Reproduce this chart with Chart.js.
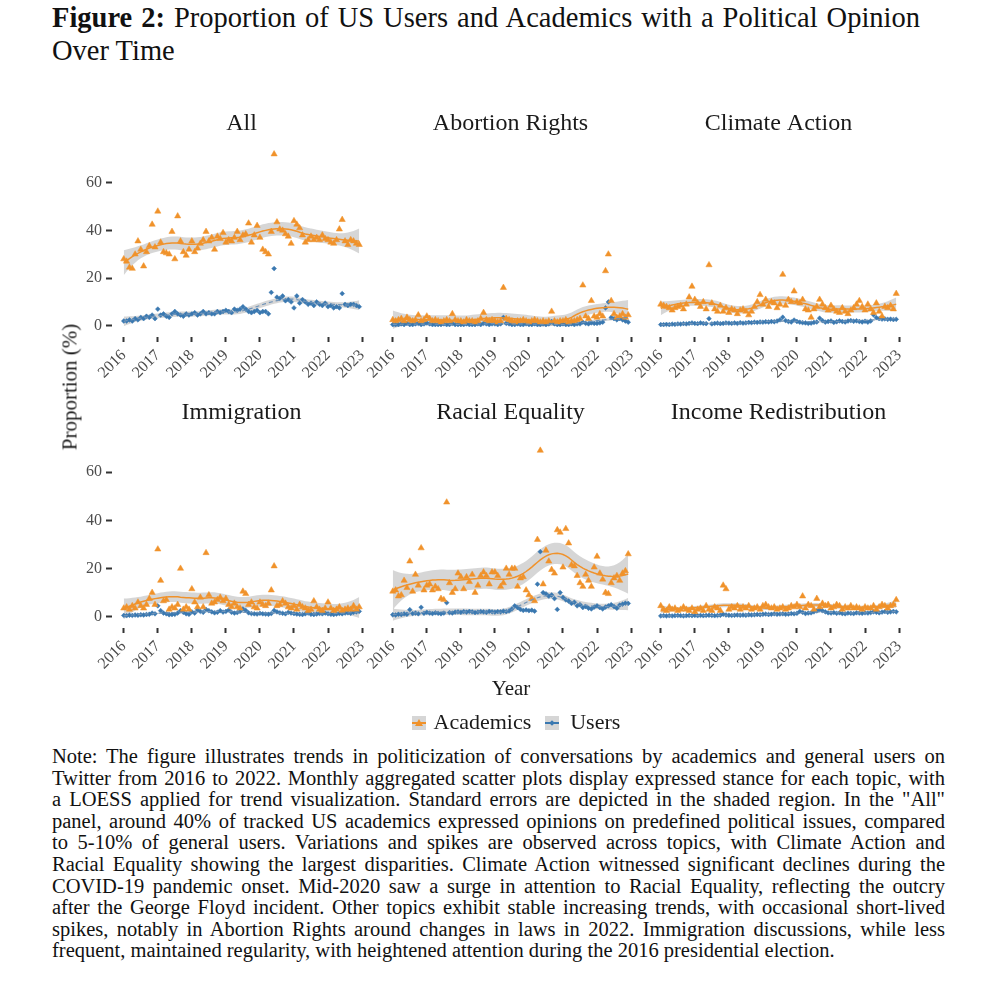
<!DOCTYPE html>
<html>
<head>
<meta charset="utf-8">
<script src="https://cdn.jsdelivr.net/npm/chart.js@4.4.1/dist/chart.umd.min.js"></script>
<style>
  body { margin: 0; background: #fff; font-family: 'Liberation Serif', serif; color: #111; }
  #page { position: relative; width: 991px; height: 1000px; overflow: hidden; font-family: 'Liberation Serif', serif; }
  canvas { position: absolute; }
  .just { text-align: justify; text-align-last: justify; white-space: nowrap; }
  .key { display: inline-block; position: relative; width: 14px; height: 14px; background: #d6d6d6; vertical-align: -1px; }
  .key .ln { position: absolute; left: 0; right: 0; top: 6px; height: 2px; }
</style>
</head>
<body>
<div id="page">
  <div style="position:absolute;left:52px;top:1px;width:868px;font-size:28.5px;line-height:33px;">
    <div class="just"><b>Figure 2:</b> Proportion of US Users and Academics with a Political Opinion</div>
    <div>Over Time</div>
  </div>

  <canvas id="panel0" width="359" height="291" style="left:62px;top:96px"></canvas>
  <canvas id="panel1" width="359" height="291" style="left:331px;top:96px"></canvas>
  <canvas id="panel2" width="359" height="291" style="left:599px;top:96px"></canvas>
  <canvas id="panel3" width="359" height="293" style="left:62px;top:385px"></canvas>
  <canvas id="panel4" width="359" height="293" style="left:331px;top:385px"></canvas>
  <canvas id="panel5" width="359" height="293" style="left:599px;top:385px"></canvas>

  <div style="position:absolute;left:70px;top:387px;transform:translate(-50%,-50%) rotate(-90deg);font-size:21px;white-space:nowrap;color:#1a1a1a">Proportion (%)</div>
  <div style="position:absolute;left:511px;top:688px;transform:translate(-50%,-50%);font-size:21px;color:#1a1a1a">Year</div>

  <div style="position:absolute;left:412px;top:709px;font-family:'Liberation Serif',serif;font-size:22px;line-height:26px;white-space:nowrap;color:#1a1a1a">
    <span class="key"><span class="ln" style="background:#F0922B"></span><span style="position:absolute;left:3px;top:3px;width:0;height:0;border-left:4px solid transparent;border-right:4px solid transparent;border-bottom:7px solid #F0922B"></span></span>
    <span style="margin-left:2px">Academics</span>
    <span class="key" style="margin-left:8px"><span class="ln" style="background:#3A78B0"></span><span style="position:absolute;left:5px;top:5px;width:4px;height:4px;background:#3A78B0;transform:rotate(45deg)"></span></span>
    <span style="margin-left:6px">Users</span>
  </div>

  <div style="position:absolute;left:52px;top:746px;width:893px;font-size:20.5px;line-height:21.6px;color:#111">
    <div class="just">Note: The figure illustrates trends in politicization of conversations by academics and general users on</div>
    <div class="just">Twitter from 2016 to 2022. Monthly aggregated scatter plots display expressed stance for each topic, with</div>
    <div class="just">a LOESS applied for trend visualization. Standard errors are depicted in the shaded region. In the &quot;All&quot;</div>
    <div class="just">panel, around 40% of tracked US academics expressed opinions on predefined political issues, compared</div>
    <div class="just">to 5-10% of general users. Variations and spikes are observed across topics, with Climate Action and</div>
    <div class="just">Racial Equality showing the largest disparities. Climate Action witnessed significant declines during the</div>
    <div class="just">COVID-19 pandemic onset. Mid-2020 saw a surge in attention to Racial Equality, reflecting the outcry</div>
    <div class="just">after the George Floyd incident. Other topics exhibit stable increasing trends, with occasional short-lived</div>
    <div class="just">spikes, notably in Abortion Rights around changes in laws in 2022. Immigration discussions, while less</div>
    <div>frequent, maintained regularity, with heightened attention during the 2016 presidential election.</div>
  </div>
</div>

<script>
'use strict';

const panelTitles = ['All', 'Abortion Rights', 'Climate Action', 'Immigration', 'Racial Equality', 'Income Redistribution'];
const yearTicks = [2016, 2017, 2018, 2019, 2020, 2021, 2022, 2023];
const valueTicks = [0, 20, 40, 60];
const firstYear = 2016;
const lastYear = 2022;

// monthly share (%) of accounts with a stance, Jan 2016 .. Dec 2022, one row per year
const allAcademics = [
  28, 27, 24.5, 24, 30, 35.5, 32, 25, 31, 33.5, 42.5, 33,
  48, 35, 31, 30.5, 30, 39.5, 28, 46, 35.5, 31, 29.5, 32,
  35.5, 31, 32.5, 34.5, 36, 39.5, 35.5, 37, 32, 37.5, 36.5, 39,
  35, 36, 35.5, 37, 39.5, 36, 38, 38.5, 43, 35, 38, 42,
  37, 32, 31, 30, 39.5, 72, 43.5, 40.5, 40, 38.5, 37.5, 34.5,
  44, 42.5, 41, 38, 35, 36, 37.5, 36, 37, 36, 38, 36.5,
  36, 35, 34.5, 36, 40.5, 44.5, 35.5, 34, 36, 35.5, 34.5, 34
];
const allUsers = [
  2, 2, 2.5, 2, 3, 2.5, 3.5, 3, 4, 3.5, 4.5, 3,
  7, 4.5, 5, 4, 3.5, 5, 6, 5, 4.5, 4, 5, 4.5,
  5, 5.5, 4.5, 5, 6, 5, 5.5, 5, 5, 6, 5.5, 6,
  6.5, 6, 5.5, 7, 6.5, 7, 8, 7, 6, 5.5, 6, 6.5,
  5.5, 6, 6, 5, 14, 24, 12, 11.5, 12.5, 10.5, 11, 10,
  7.5, 12.5, 9.5, 11, 10, 9, 9.5, 8.5, 10, 9, 8.5, 9.5,
  8, 8.5, 7.5, 8, 7.5, 13.5, 9, 8.5, 9, 9, 8.5, 8
];
const abortionAcademics = [
  2.5, 2, 2.5, 3, 2, 3.5, 2.5, 2, 2.5, 4.5, 2, 2.5,
  4, 3, 2, 2.5, 2, 1.5, 2, 2.5, 2, 5, 2.5, 2,
  2, 1.5, 2.5, 2, 2, 1.5, 2, 3, 5.5, 2.5, 2, 2.5,
  2, 1.5, 2, 16, 3, 2.5, 2, 1.5, 2, 2, 2.5, 2,
  1.5, 2, 2.5, 2, 1.5, 2, 1.5, 2, 6, 2, 1.5, 2,
  2, 2.5, 1.5, 2, 2, 2.5, 3, 17, 4, 3, 10.5, 4,
  3.5, 5, 4, 23, 30, 10.5, 5, 3.5, 4, 5, 3.5, 4.5
];
const abortionUsers = [
  0.5, 0.5, 0.5, 0.8, 0.5, 1, 0.5, 0.5, 0.8, 1, 0.5, 0.8,
  1.2, 0.8, 0.5, 0.5, 0.5, 0.5, 0.8, 0.5, 0.5, 1, 0.5, 0.5,
  0.5, 0.5, 0.8, 0.5, 0.5, 0.5, 0.8, 0.5, 1, 0.8, 0.5, 0.8,
  0.8, 0.5, 0.8, 3.5, 1, 0.8, 0.5, 0.5, 0.8, 0.5, 0.5, 0.8,
  0.5, 0.5, 0.8, 0.5, 0.5, 0.8, 0.5, 0.8, 1.8, 0.8, 0.5, 0.5,
  0.8, 0.5, 0.5, 0.8, 0.5, 0.8, 0.8, 1.5, 1, 0.8, 1.2, 1,
  1, 1.2, 1.5, 7.5, 10, 3.5, 3, 2.5, 3, 2.5, 2, 1.5
];
const climateAcademics = [
  9, 8.5, 8, 7.5, 6.5, 7.5, 8, 8.5, 7, 9, 12, 16.5,
  11, 9.5, 8, 10, 7, 25.5, 9.5, 7, 6, 8.5, 6, 7.5,
  5.5, 7, 6.5, 5, 6.5, 7, 6, 4.5, 6, 8, 10, 13,
  9, 11, 8, 10, 9.5, 7.5, 9, 21.5, 8.5, 11, 10, 14.5,
  10, 9.5, 11, 7, 6.5, 3.5, 7, 8, 11, 9, 7.5, 6.5,
  8.5, 7, 6, 5.5, 7.5, 6, 5, 6.5, 7.5, 9, 10.5, 8,
  6.5, 9, 7, 5.5, 9.5, 6, 4, 8, 7.5, 8.5, 7, 13.5
];
const climateUsers = [
  0.5, 0.5, 0.6, 0.5, 0.7, 0.6, 0.8, 0.7, 0.9, 0.8, 1, 1.2,
  1, 0.9, 1.2, 1, 0.9, 3, 0.8, 1, 1.1, 0.9, 1, 1.2,
  1.1, 1, 1.2, 1, 1.3, 1.1, 1.2, 1.4, 1.3, 1.5, 1.4, 1.6,
  1.5, 1.7, 1.6, 1.8, 1.7, 2, 2.5, 3.6, 2.2, 1.8, 1.6, 2.4,
  1.8, 1.5, 1.3, 1.2, 1, 1.1, 1.4, 1.6, 3.2, 2.2, 1.5, 1.8,
  2, 1.4, 1.7, 2.1, 1.8, 1.6, 2, 2.2, 1.9, 2.1, 1.8, 1.6,
  1.9, 1.5, 2, 4.6, 3.4, 3, 2.8, 2.9, 2.7, 2.8, 2.6, 2.7
];
const immigrationAcademics = [
  3.5, 4, 3, 4.5, 3.5, 6, 4.5, 3.5, 5, 7.5, 10, 5,
  28, 15, 6.5, 7, 3, 4, 3.5, 5, 20, 3, 4, 3,
  11.5, 6, 4, 8, 4, 26.5, 9, 5.5, 6, 7, 8, 6.5,
  7.5, 5, 4, 5.5, 4, 3.5, 10.5, 9.5, 5, 6, 4, 3.5,
  6, 5, 4.5, 5.5, 11, 21, 4.5, 5, 6.5, 5.5, 4, 3.5,
  4.5, 3, 5, 4, 3.5, 2.5, 3, 6.5, 4, 3, 2.5, 3.5,
  6, 3.5, 2.5, 3, 4, 2.5, 3, 3.5, 3, 4.5, 3, 4
];
const immigrationUsers = [
  0.5, 0.4, 0.6, 0.5, 0.7, 0.6, 0.8, 0.7, 0.9, 1, 1.5, 1.2,
  4.5, 2.5, 1.5, 1.2, 0.8, 0.9, 1, 1.5, 2.5, 1.8, 1.2, 1,
  2, 1.5, 2.8, 2.2, 1.8, 3, 2.5, 2, 1.6, 1.8, 2.5, 1.9,
  2.2, 2.8, 1.8, 1.5, 1.7, 2.2, 3.2, 2.6, 1.6, 1.3, 1.2, 1.1,
  1.4, 1.2, 1.1, 1, 1.3, 2.6, 2, 1.6, 1.4, 1.2, 1.8, 1.5,
  1.3, 1.1, 1, 0.9, 1.2, 1.5, 1, 0.9, 1.1, 1.3, 1.2, 1.5,
  1.2, 1, 0.9, 1.1, 1.3, 1.2, 1.5, 1.6, 1.4, 1.8, 2, 2.2
];
const racialAcademics = [
  10.5, 11, 8.5, 9, 15, 12, 23, 10.5, 17.5, 13, 28.5, 11,
  13, 13.5, 11, 12.5, 11.5, 7.5, 7, 47.5, 14, 10, 11.5, 18,
  16.5, 11.5, 16.5, 14.5, 17.5, 10, 13, 17, 18.5, 17, 13.5, 18.5,
  18.5, 17, 12.5, 14, 20, 17.5, 20, 20, 12.5, 16, 16.5, 11,
  9, 7.5, 6.5, 32, 69, 13.5, 27.5, 23, 19.5, 18, 36, 35,
  20.5, 36.5, 30.5, 21.5, 21, 17, 14, 12.5, 17.5, 15, 12.5, 20.5,
  25, 18, 15.5, 10, 9.5, 14, 16, 17, 15, 18, 19, 26
];
const racialUsers = [
  0.8, 0.7, 1, 0.9, 1.2, 1, 2.9, 1.3, 1.5, 1.2, 3.9, 1.4,
  1.8, 1.5, 1.3, 1.6, 1.4, 1.2, 1.5, 5.8, 1.7, 1.5, 1.9, 2,
  1.8, 2.1, 1.9, 2.2, 2, 1.7, 1.9, 2.1, 2, 1.8, 2.2, 2,
  1.9, 2.1, 2, 2.3, 2.1, 2.4, 3.2, 4.5, 3.8, 3, 2.6, 2.8,
  2.5, 2.7, 2.3, 13.5, 27, 10, 9.5, 8.5, 9, 7.5, 3, 10,
  8, 7, 6.5, 5.5, 6, 4.5, 5, 3.8, 4.2, 3.5, 3.2, 4,
  4.5, 3.8, 3.2, 4, 4.5, 5, 4.2, 3.5, 4.8, 5.2, 5.6, 5.5
];
const incomeAcademics = [
  4.5, 3, 2.5, 4, 3, 3.5, 2.5, 3, 4, 3, 2.5, 3.5,
  2, 3, 3.5, 2.5, 4.5, 3, 2.5, 4, 3.5, 2.5, 13, 11.5,
  3, 4, 3.5, 4.5, 3, 4, 3.5, 4.5, 3, 3.5, 4, 3,
  4.5, 5, 4, 3.5, 4, 3, 3.5, 4, 3, 3.5, 4.5, 4,
  5, 4, 8.5, 3.5, 5, 4.5, 3, 7.5, 4, 5.5, 4.5, 5,
  3.5, 4, 5, 4.5, 3, 4, 3.5, 4.5, 3.5, 4, 3.5, 3,
  4, 3.5, 3.5, 4.5, 3, 4, 5, 4.5, 3.5, 4.5, 5, 7
];
const incomeUsers = [
  0.3, 0.4, 0.3, 0.4, 0.3, 0.4, 0.5, 0.4, 0.3, 0.4, 0.5, 0.4,
  0.5, 0.4, 0.5, 0.4, 0.5, 0.6, 0.5, 0.4, 0.5, 0.6, 1, 0.7,
  0.6, 0.5, 0.6, 0.7, 0.6, 0.7, 0.6, 0.8, 0.7, 0.8, 0.9, 0.8,
  1, 1.1, 0.9, 1, 1.2, 1, 1.1, 1.2, 1, 1.1, 1.3, 1.2,
  1.4, 2.2, 1.8, 1.3, 1.5, 1.6, 2, 2.4, 2.9, 2.5, 2, 1.6,
  1.5, 1.7, 1.4, 1.6, 1.3, 1.2, 1.5, 1.4, 1.3, 1.6, 1.5, 1.4,
  1.6, 1.5, 1.7, 2, 1.8, 1.6, 1.9, 2.1, 1.8, 2, 2.2, 2
];

const panelData = [
  [allAcademics, allUsers],
  [abortionAcademics, abortionUsers],
  [climateAcademics, climateUsers],
  [immigrationAcademics, immigrationUsers],
  [racialAcademics, racialUsers],
  [incomeAcademics, incomeUsers]
];

const orange = '#F0922B';
const blue = '#3A78B0';
const bandFill = 'rgba(153,153,153,0.4)';
const serif = 'Liberation Serif';

// months as decimal years
const months = [];
for (let y = firstYear; y <= lastYear; y++) {
  for (let m = 0; m < 12; m++) months.push(y + m / 12);
}
const xPad = (months[months.length - 1] - months[0]) * 0.05;

function solve3(A, b) {
  const det = m => m[0][0] * (m[1][1] * m[2][2] - m[1][2] * m[2][1])
    - m[0][1] * (m[1][0] * m[2][2] - m[1][2] * m[2][0])
    + m[0][2] * (m[1][0] * m[2][1] - m[1][1] * m[2][0]);
  const d = det(A);
  const out = [];
  for (let c = 0; c < 3; c++) {
    const M = A.map((row, r) => row.map((v, k) => (k === c ? b[r] : v)));
    out.push(det(M) / d);
  }
  return out;
}

// local quadratic loess with tricube weights + standard error band
function loess(xs, ys, span) {
  const n = xs.length;
  const q = Math.floor(n * span);
  const fit = [];
  const rows = [];
  for (let k = 0; k < n; k++) {
    const x0 = xs[k];
    const d = xs.map(x => Math.abs(x - x0));
    const h = d.slice().sort((a, b) => a - b)[q - 1] * 1.0001;
    const w = d.map(di => {
      const u = di / h;
      return u < 1 ? Math.pow(1 - u * u * u, 3) : 0;
    });
    const S = [[0, 0, 0], [0, 0, 0], [0, 0, 0]];
    for (let i = 0; i < n; i++) {
      const t = xs[i] - x0;
      const b = [1, t, t * t];
      for (let r = 0; r < 3; r++) {
        for (let c = 0; c < 3; c++) S[r][c] += w[i] * b[r] * b[c];
      }
    }
    const c = solve3(S, [1, 0, 0]);
    const l = xs.map((x, i) => {
      const t = x - x0;
      return w[i] * (c[0] + c[1] * t + c[2] * t * t);
    });
    rows.push(l);
    fit.push(l.reduce((s, li, i) => s + li * ys[i], 0));
  }
  let rss = 0;
  let delta = 0;
  for (let k = 0; k < n; k++) {
    rss += Math.pow(ys[k] - fit[k], 2);
    for (let i = 0; i < n; i++) {
      delta += Math.pow((i === k ? 1 : 0) - rows[k][i], 2);
    }
  }
  const sigma = Math.sqrt(rss / delta);
  const lo = [];
  const hi = [];
  for (let k = 0; k < n; k++) {
    const se = sigma * Math.sqrt(rows[k].reduce((s, li) => s + li * li, 0));
    lo.push(fit[k] - 1.98 * se);
    hi.push(fit[k] + 1.98 * se);
  }
  return { fit, lo, hi };
}

function pts(ys) {
  return ys.map((y, i) => ({ x: months[i], y: y }));
}

function createPanel(idx) {
  const [acad, users] = panelData[idx];
  const showY = idx % 3 === 0;
  const la = loess(months, acad, 0.5);
  const lu = loess(months, users, 0.5);
  const tickFont = { family: serif, size: 16 };

  return new Chart(document.getElementById('panel' + idx), {
    type: 'line',
    data: {
      datasets: [{
        data: pts(la.hi), fill: '+1', backgroundColor: bandFill, borderWidth: 0,
        borderColor: 'transparent', pointRadius: 0, order: 5
      }, {
        data: pts(la.lo), fill: false, borderWidth: 0, borderColor: 'transparent', pointRadius: 0, order: 5
      }, {
        data: pts(lu.hi), fill: '+1', backgroundColor: bandFill, borderWidth: 0,
        borderColor: 'transparent', pointRadius: 0, order: 5
      }, {
        data: pts(lu.lo), fill: false, borderWidth: 0, borderColor: 'transparent', pointRadius: 0, order: 5
      }, {
        label: 'Users', data: pts(users), showLine: false, pointStyle: 'rectRot',
        pointRadius: 2.4, pointBackgroundColor: blue, pointBorderColor: blue, pointBorderWidth: 0.5, order: 4
      }, {
        label: 'Academics', data: pts(acad), showLine: false, pointStyle: 'triangle',
        pointRadius: 3.6, pointBackgroundColor: orange, pointBorderColor: orange, pointBorderWidth: 0.5, order: 3
      }, {
        data: pts(lu.fit), borderColor: '#6f93b8', borderWidth: 1.2, borderDash: [4, 3],
        pointRadius: 0, fill: false, order: 2
      }, {
        data: pts(la.fit), borderColor: orange, borderWidth: 1.5, pointRadius: 0, fill: false, order: 1
      }]
    },
    options: {
      responsive: false,
      animation: false,
      events: [],
      layout: { padding: 0 },
      plugins: {
        legend: { display: false },
        tooltip: { enabled: false },
        title: {
          display: true,
          text: panelTitles[idx],
          color: '#1a1a1a',
          font: { family: serif, size: 24, weight: 'normal' },
          padding: { top: 13.6, bottom: 2.6 }
        }
      },
      scales: {
        x: {
          type: 'linear',
          min: months[0] - xPad,
          max: months[months.length - 1] + xPad,
          afterBuildTicks: s => { s.ticks = yearTicks.map(v => ({ value: v })); },
          afterFit: s => { s.height = 50; },
          ticks: {
            minRotation: 45, maxRotation: 45, padding: 4, color: '#4d4d4d', font: tickFont,
            callback: v => String(v)
          },
          grid: { drawOnChartArea: false, tickLength: 5, tickWidth: 2, tickColor: '#333' },
          border: { display: false }
        },
        y: {
          min: -4.7,
          max: 77.5,
          afterBuildTicks: s => { s.ticks = valueTicks.map(v => ({ value: v })); },
          afterFit: s => { s.width = 50; },
          ticks: { display: showY, padding: 4, color: '#4d4d4d', font: tickFont },
          grid: { display: showY, drawOnChartArea: false, tickLength: 6, tickWidth: 2, tickColor: '#333' },
          border: { display: false }
        },
        // empty mirror axis so the facet title is centred over the plot
        yRight: {
          position: 'right',
          min: -4.7,
          max: 77.5,
          afterFit: s => { s.width = 50; },
          ticks: { display: false },
          grid: { display: false },
          border: { display: false }
        }
      }
    }
  });
}

for (let i = 0; i < panelTitles.length; i++) {
  createPanel(i);
}
</script>
</body>
</html>
